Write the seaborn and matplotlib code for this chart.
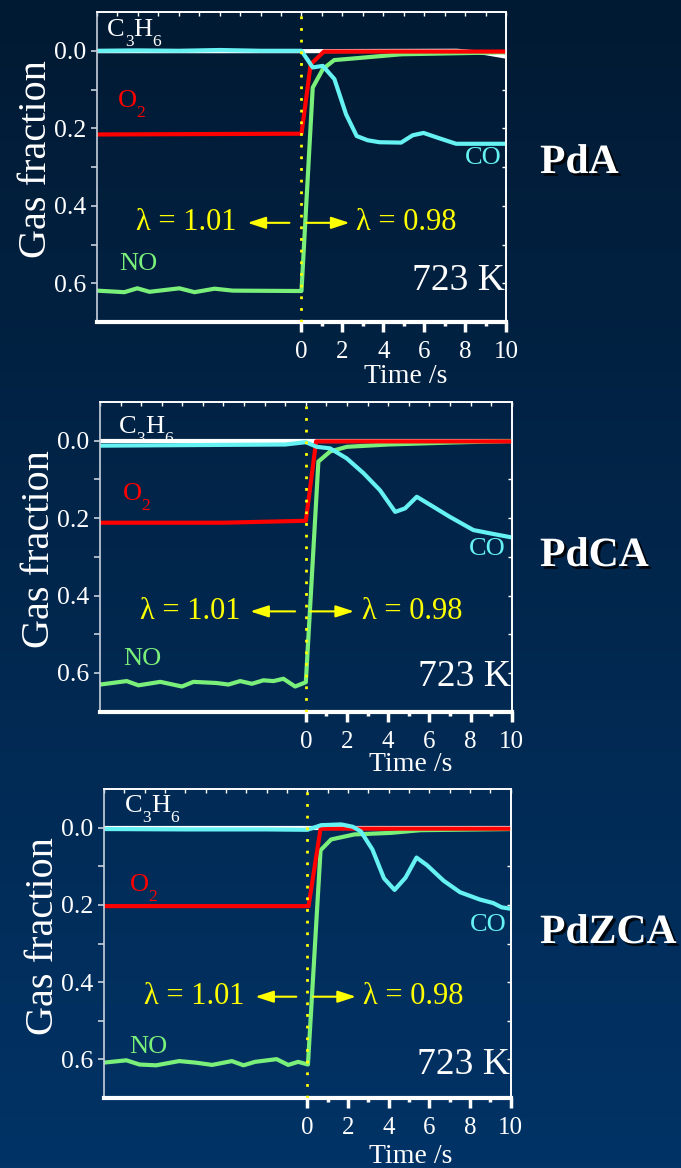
import numpy as np
import matplotlib
matplotlib.use("Agg")
import matplotlib.pyplot as plt
import matplotlib.patheffects as pe
from matplotlib.colors import LinearSegmentedColormap
from matplotlib.transforms import offset_copy
import seaborn as sns

# ---------------------------------------------------------------- data
samples = ["PdA", "PdCA", "PdZCA"]
temperature_label = "723 K"
lambda_lean = "λ = 1.01"
lambda_rich = "λ = 0.98"
x_ticks = [0, 2, 4, 6, 8, 10]
y_ticks = [0.0, 0.2, 0.4, 0.6]
y_tick_labels = ["0.0", "0.2", "0.4", "0.6"]

# PdA
pda_t_c3h6 = [-10, 0, 7.6, 9, 10]
pda_c3h6 = [0.001, 0.001, 0.0, 0.006, 0.015]
pda_t_no = [-10, -8.66, -8.03, -7.43, -5.97, -5.23, -4.25, -3.36, 0, 0.55, 1.05, 1.6, 2.5, 4.9, 10]
pda_no = [0.619, 0.623, 0.613, 0.622, 0.613, 0.623, 0.614, 0.619, 0.62, 0.095, 0.047, 0.024, 0.02, 0.009, 0.004]
pda_t_o2 = [-10, -5, 0, 0.45, 1.1, 10]
pda_o2 = [0.216, 0.215, 0.214, 0.035, 0.002, 0.002]
pda_t_co = [-10, -8, -6, -4, -2, 0, 0.55, 1.04, 1.61, 2.18, 2.7, 3.24, 3.81, 4.87, 5.44, 5.97, 6.75, 7.56, 10]
pda_co = [0.0, -0.001, 0.0, -0.002, 0.0, 0.0, 0.043, 0.039, 0.073, 0.164, 0.22, 0.231, 0.236, 0.237, 0.218, 0.212, 0.226, 0.24, 0.24]

# PdCA
pdca_t_c3h6 = [-10, 10]
pdca_c3h6 = [0.0, 0.0]
pdca_t_no = [-10, -8.7, -8.13, -7.07, -6.02, -5.46, -4.33, -3.76, -3.19, -2.62, -2.06, -1.57, -1.09, -0.52, 0,
             0.61, 1.18, 1.99, 4.0, 7.0, 10]
pdca_no = [0.63, 0.621, 0.632, 0.623, 0.635, 0.623, 0.626, 0.63, 0.621, 0.628, 0.619, 0.621, 0.615, 0.635, 0.624,
           0.054, 0.028, 0.016, 0.01, 0.005, 0.001]
pdca_t_o2 = [-10, -4, 0, 0.5, 10]
pdca_o2 = [0.212, 0.212, 0.207, 0.002, 0.002]
pdca_t_co = [-10, -7, -4, -1, 0, 0.53, 1.18, 1.99, 2.8, 3.6, 4.34, 4.82, 5.39, 6.2, 7.0, 7.57, 8.14, 9.1, 10]
pdca_co = [0.013, 0.012, 0.011, 0.01, 0.004, 0.016, 0.02, 0.046, 0.084, 0.128, 0.184, 0.175, 0.145, 0.171, 0.197,
           0.214, 0.231, 0.241, 0.25]

# PdZCA
pdzca_t_c3h6 = [-10, 10]
pdzca_c3h6 = [0.0, 0.0]
pdzca_t_no = [-10, -8.9, -8.25, -7.44, -6.3, -5.5, -4.68, -3.71, -3.14, -2.57, -1.51, -0.94, -0.45, 0.03,
              0.65, 1.17, 2.31, 4.1, 5.56, 10]
pdzca_no = [0.609, 0.603, 0.614, 0.616, 0.605, 0.609, 0.615, 0.605, 0.616, 0.607, 0.6, 0.615, 0.607, 0.614,
            0.058, 0.03, 0.017, 0.013, 0.006, 0.003]
pdzca_t_o2 = [-10, 0.06, 0.65, 10]
pdzca_o2 = [0.203, 0.203, 0.002, 0.002]
pdzca_t_co = [-10, -6, -2, 0, 0.68, 1.66, 2.23, 2.63, 3.2, 3.77, 4.29, 4.83, 5.37, 5.89, 6.7, 7.51, 8.49, 9.14,
              9.55, 10]
pdzca_co = [0.003, 0.004, 0.004, 0.005, -0.007, -0.009, -0.003, 0.009, 0.056, 0.131, 0.161, 0.129, 0.077, 0.097,
            0.137, 0.167, 0.186, 0.195, 0.206, 0.21]

# ---------------------------------------------------------------- style
sns.set_style("ticks")
plt.rcParams["font.family"] = ["Liberation Serif", "DejaVu Serif"]

WHITE = "#ffffff"
RED = "#ff0000"
GREEN = "#7aef7a"
CYAN = "#66f2f2"
YELLOW = "#ffff00"
AXIS_GREY = "#c8d0dc"

fig = plt.figure(figsize=(6.81, 11.68), dpi=100)
renderer = fig.canvas.get_renderer()

# navy gradient backdrop
bg = fig.add_axes([0, 0, 1, 1], zorder=-10)
grad = np.linspace(0, 1, 256).reshape(-1, 1)
cmap = LinearSegmentedColormap.from_list("navy", ["#011a33", "#013366"])
bg.imshow(grad, aspect="auto", cmap=cmap, extent=[0, 1, 0, 1], origin="upper")
bg.set_axis_off()


def formula(ax, x, y, parts, color, size):
    """Write a chemical formula with low-set subscripts, left-aligned on its baseline."""
    dx = 0.0
    for s, sub in parts:
        tr = offset_copy(ax.transData, fig=fig, x=dx, y=(-0.38 * size * 100 / 72 if sub else 0), units="dots")
        t = ax.text(x, y, s, transform=tr, color=color, fontsize=size * (0.66 if sub else 1.0),
                    ha="left", va="baseline")
        dx += t.get_window_extent(renderer).width


panel_rects = [
    [0.1424, 0.7243, 0.6006, 0.2654],
    [0.1468, 0.3907, 0.6046, 0.2652],
    [0.1527, 0.0602, 0.5972, 0.2640],
]

panel_series = [
    (pda_t_c3h6, pda_c3h6, pda_t_no, pda_no, pda_t_o2, pda_o2, pda_t_co, pda_co),
    (pdca_t_c3h6, pdca_c3h6, pdca_t_no, pdca_no, pdca_t_o2, pdca_o2, pdca_t_co, pdca_co),
    (pdzca_t_c3h6, pdzca_c3h6, pdzca_t_no, pdzca_no, pdzca_t_o2, pdzca_o2, pdzca_t_co, pdzca_co),
]

# annotation placement per panel
label_pos = [
    dict(c3h6=(-9.5, -0.039), o2=(-9.0, 0.145), no=(-8.9, 0.551), co=(7.97, 0.277), k=0.594,
         arrow_y=0.444, left=(-0.59, -2.64, -3.2), right=(0.23, 2.35, 2.67), xlab=-0.175, name_y=163),
    dict(c3h6=(-9.1, -0.02), o2=(-8.9, 0.153), no=(-8.85, 0.563), co=(7.94, 0.281), k=0.611,
         arrow_y=0.441, left=(-0.52, -2.7, -3.19), right=(0.21, 2.34, 2.72), xlab=-0.172, name_y=556),
    dict(c3h6=(-8.98, -0.042), o2=(-8.75, 0.164), no=(-8.75, 0.569), co=(7.97, 0.253), k=0.614,
         arrow_y=0.438, left=(-0.54, -2.56, -3.1), right=(0.28, 2.39, 2.72), xlab=-0.19, name_y=933),
]

for i, rect in enumerate(panel_rects):
    ax = fig.add_axes(rect)
    ax.set_facecolor("none")
    tc, c3, tn, no, to, o2, tco, co = panel_series[i]
    lp = label_pos[i]

    kw = dict(ax=ax, lw=3.0, estimator=None, sort=False, legend=False)
    sns.lineplot(x=tc, y=c3, color=WHITE, **kw)
    sns.lineplot(x=tn, y=no, color=GREEN, **kw)
    sns.lineplot(x=to, y=o2, color=RED, **kw)
    sns.lineplot(x=tco, y=co, color=CYAN, **kw)

    # switch moment
    ax.axvline(0, color=YELLOW, lw=2.0, ls=(0, (1, 3.2)), zorder=5)

    ax.set_xlim(-10, 10)
    ax.set_ylim(0.7, -0.1)
    ax.set_xticks(x_ticks)
    ax.set_xticks([1, 3, 5, 7, 9], minor=True)
    ax.set_xticklabels([str(v) for v in x_ticks])
    ax.set_yticks(y_ticks)
    ax.set_yticklabels(y_tick_labels)
    ax.set_yticks([0.1, 0.3, 0.5], minor=True)

    ax.tick_params(axis="x", which="major", direction="out", length=7, width=2.5, color=WHITE,
                   labelcolor=WHITE, labelsize=18, pad=7)
    ax.tick_params(axis="x", which="minor", direction="out", length=3, width=2.5, color=WHITE)
    ax.tick_params(axis="y", which="major", direction="out", length=4, width=1.2, color=AXIS_GREY,
                   labelcolor=WHITE, labelsize=18.5, pad=4)
    ax.tick_params(axis="y", which="minor", direction="out", length=4, width=1.2, color=AXIS_GREY)

    for side in ("top", "right"):
        ax.spines[side].set_visible(True)
        ax.spines[side].set_color(WHITE)
        ax.spines[side].set_linewidth(1.2)
    ax.spines["bottom"].set_color(WHITE)
    ax.spines["bottom"].set_linewidth(3.0)
    ax.spines["left"].set_color(AXIS_GREY)
    ax.spines["left"].set_linewidth(1.2)

    top = ax.secondary_xaxis("top")
    top.set_xticks(np.arange(-10, 11, 1))
    top.tick_params(direction="in", length=3, width=1, color=WHITE, labeltop=False)
    top.spines["top"].set_color(WHITE)
    top.spines["top"].set_linewidth(1.2)
    right = ax.secondary_yaxis("right")
    right.set_yticks(np.arange(0.0, 0.61, 0.1))
    right.tick_params(direction="in", length=3, width=1, color=WHITE, labelright=False)
    right.spines["right"].set_color(WHITE)
    right.spines["right"].set_linewidth(1.2)

    ax.set_xlabel("Time /s", color=WHITE, fontsize=20)
    ax.xaxis.label.set_va("center")
    ax.xaxis.set_label_coords(0.755, lp["xlab"])
    ax.set_ylabel("Gas fraction", color=WHITE, fontsize=29)
    ax.yaxis.label.set_va("center")
    ax.yaxis.set_label_coords(-0.148, 0.525)

    # gas labels
    formula(ax, *lp["c3h6"], [("C", False), ("3", True), ("H", False), ("6", True)], WHITE, 19)
    formula(ax, *lp["o2"], [("O", False), ("2", True)], RED, 19)
    ax.text(*lp["no"], "NO", color=GREEN, fontsize=19, ha="left", va="center")
    ax.text(*lp["co"], "CO", color=CYAN, fontsize=19, ha="left", va="center")
    ax.text(9.95, lp["k"], temperature_label, color=WHITE, fontsize=27, ha="right", va="center")

    # lean / rich arrows
    ay = lp["arrow_y"]
    arrow = dict(arrowstyle="-|>,head_length=0.55,head_width=0.18", color=YELLOW, lw=1.5,
                 shrinkA=0, shrinkB=0, mutation_scale=20)
    x0, x1, xt = lp["left"]
    ax.annotate("", xy=(x1, ay), xytext=(x0, ay), arrowprops=arrow)
    ax.text(xt, ay, lambda_lean, color=YELLOW, fontsize=22, ha="right", va="center")
    x0, x1, xt = lp["right"]
    ax.annotate("", xy=(x1, ay), xytext=(x0, ay), arrowprops=arrow)
    ax.text(xt, ay, lambda_rich, color=YELLOW, fontsize=22, ha="left", va="center")

    # sample name beside the panel
    fig.text(540 / 681, 1 - lp["name_y"] / 1168, samples[i], color=WHITE, fontsize=30,
             fontweight="bold", ha="left", va="center",
             path_effects=[pe.SimplePatchShadow(offset=(2, -2), shadow_rgbFace="black", alpha=0.85),
                           pe.Normal()])

fig.savefig("out.png", dpi=100, facecolor=fig.get_facecolor())
